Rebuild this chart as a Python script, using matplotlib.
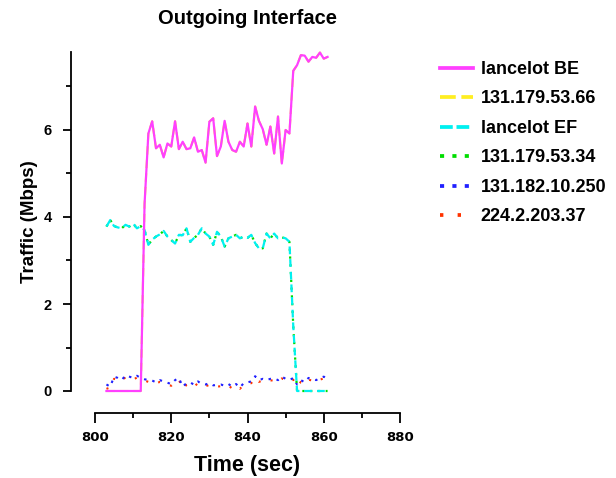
import matplotlib
matplotlib.use("Agg")
import matplotlib.pyplot as plt
from matplotlib.lines import Line2D
import numpy as np

time = list(range(803, 862))

lancelot_be = [0, 0, 0, 0, 0, 0, 0, 0, 0, 0,
               4.3, 5.92, 6.2, 5.58, 5.66, 5.37, 5.69, 5.62, 6.2, 5.56,
               5.73, 5.56, 5.58, 5.83, 5.50, 5.54, 5.25, 6.19, 6.27, 5.40,
               5.62, 6.21, 5.73, 5.54, 5.50, 5.73, 5.62, 6.15, 5.62, 6.54,
               6.21, 6.02, 5.66, 6.08, 5.46, 6.31, 5.23, 6.00, 5.92, 7.36,
               7.49, 7.72, 7.71, 7.57, 7.68, 7.66, 7.78, 7.64, 7.68]
ip_53_66 = list(lancelot_be)

lancelot_ef = [3.78, 3.93, 3.79, 3.76, 3.74, 3.82, 3.78, 3.85, 3.74, 3.79,
               3.70, 3.36, 3.48, 3.55, 3.60, 3.68, 3.55, 3.47, 3.39, 3.59,
               3.58, 3.74, 3.43, 3.52, 3.59, 3.74, 3.62, 3.55, 3.36, 3.66,
               3.55, 3.32, 3.51, 3.55, 3.59, 3.51, 3.55, 3.52, 3.59, 3.40,
               3.28, 3.28, 3.62, 3.51, 3.62, 3.51, 3.53, 3.51, 3.43, 1.5,
               0, 0, 0, 0, 0, 0, 0, 0, 0]
ip_53_34 = list(lancelot_ef)

ip_10_250 = [0.15, 0.10, 0.33, 0.30, 0.25, 0.36, 0.33, 0.30, 0.35, 0.30,
             0.27, 0.25, 0.24, 0.20, 0.25, 0.22, 0.19, 0.16, 0.25, 0.30,
             0.10, 0.18, 0.20, 0.14, 0.22, 0.16, 0.15, 0.18, 0.13, 0.14,
             0.15, 0.12, 0.16, 0.10, 0.16, 0.08, 0.18, 0.20, 0.22, 0.34,
             0.25, 0.28, 0.25, 0.28, 0.29, 0.25, 0.33, 0.28, 0.25, 0.30,
             0.15, 0.25, 0.20, 0.30, 0.28, 0.25, 0.30, 0.33, 0.28]
ip_203_37 = [0.05, 0.08, 0.28, 0.26, 0.22, 0.32, 0.30, 0.26, 0.31, 0.26,
             0.24, 0.21, 0.20, 0.17, 0.21, 0.18, 0.15, 0.12, 0.21, 0.26,
             0.05, 0.14, 0.17, 0.10, 0.18, 0.12, 0.11, 0.14, 0.09, 0.10,
             0.11, 0.08, 0.12, 0.06, 0.12, 0.05, 0.14, 0.16, 0.18, 0.30,
             0.21, 0.24, 0.21, 0.24, 0.25, 0.21, 0.29, 0.24, 0.21, 0.26,
             0.11, 0.21, 0.16, 0.26, 0.24, 0.21, 0.26, 0.29, 0.24]

labels = ["lancelot BE", "131.179.53.66", "lancelot EF",
          "131.179.53.34", "131.182.10.250", "224.2.203.37"]

x_ticks = [800, 820, 840, 860, 880]
y_ticks = [0, 2, 4, 6]

plt.rcParams['font.family'] = ['Liberation Sans', 'DejaVu Sans']

fig = plt.figure(figsize=(6.16, 4.78), dpi=100)
W, H = 616, 478
ax = fig.add_axes([95 / W, (478 - 391) / H, 305 / W, (391 - 51.7) / H])

styles = {
    "lancelot BE": dict(color="#ff40ff", lw=1.6, ls="-", z=6, hls="-"),
    "131.179.53.66": dict(color="#ffee22", lw=1.5, ls=(0, (4, 2.5)), z=5,
                          hls=(0, (4.2, 1.5))),
    "lancelot EF": dict(color="#00f0f0", lw=1.6, ls=(0, (3.5, 2.2)), z=4,
                        hls=(0, (3.4, 1.0))),
    "131.179.53.34": dict(color="#00dd00", lw=1.6, ls=(0, (1, 2.5)), z=3,
                          hls=(0, (1.1, 2.2))),
    "131.182.10.250": dict(color="#2020ff", lw=1.5, ls=(0, (1.2, 2.8)), z=2.5,
                           hls=(0, (1.1, 2.2))),
    "224.2.203.37": dict(color="#ff3300", lw=1.5, ls=(0, (1, 5)), z=2,
                         hls=(0, (0.9, 3.8))),
}
series = [lancelot_be, ip_53_66, lancelot_ef, ip_53_34, ip_10_250, ip_203_37]

handles = []
for lab, ys in zip(labels, series):
    s = styles[lab]
    ax.plot(time, ys, color=s["color"], lw=s["lw"], linestyle=s["ls"],
            zorder=s["z"], clip_on=False)
    handles.append(Line2D([0], [0], color=s["color"], lw=2.7, linestyle=s["hls"]))

ax.set_xlim(800, 880)
ax.set_ylim(0, 7.8)
ax.set_xticks(x_ticks)
ax.set_yticks(y_ticks)
ax.set_xticks([810, 830, 850, 870], minor=True)
ax.set_yticks([1, 3, 5, 7], minor=True)

for sp in ["top", "right"]:
    ax.spines[sp].set_visible(False)
ax.spines["left"].set_position(("outward", 17.3))
ax.spines["bottom"].set_position(("outward", 15.8))
ax.spines["left"].set_linewidth(1.3)
ax.spines["bottom"].set_linewidth(1.3)
ax.tick_params(axis="both", which="major", direction="out", length=6, width=1.3)
ax.tick_params(axis="both", which="minor", direction="out", length=3.5, width=1.3)
ax.tick_params(axis="x", which="major", length=7, pad=6)
ax.tick_params(axis="y", which="major", pad=8)

for t in ax.get_xticklabels():
    t.set_fontfamily("DejaVu Sans")
    t.set_fontweight("bold")
    t.set_fontsize(9.5)
for t in ax.get_yticklabels():
    t.set_fontweight("bold")
    t.set_fontsize(10.5)

ax.set_xlabel("Time (sec)", fontsize=15.5, fontweight="bold", labelpad=8)
ax.set_ylabel("Traffic (Mbps)", fontsize=13.5, fontweight="bold", labelpad=4)
ax.set_title("Outgoing Interface", fontsize=14.5, fontweight="bold", pad=20)

leg = fig.legend(handles, labels, loc="upper left",
                 bbox_to_anchor=(440 / W, 1 - 61 / H),
                 frameon=False, prop=dict(weight="bold", size=13),
                 handlelength=1.85, handletextpad=0.4, labelspacing=0.69,
                 borderaxespad=0, borderpad=0)

fig.savefig("out.png", dpi=100)
